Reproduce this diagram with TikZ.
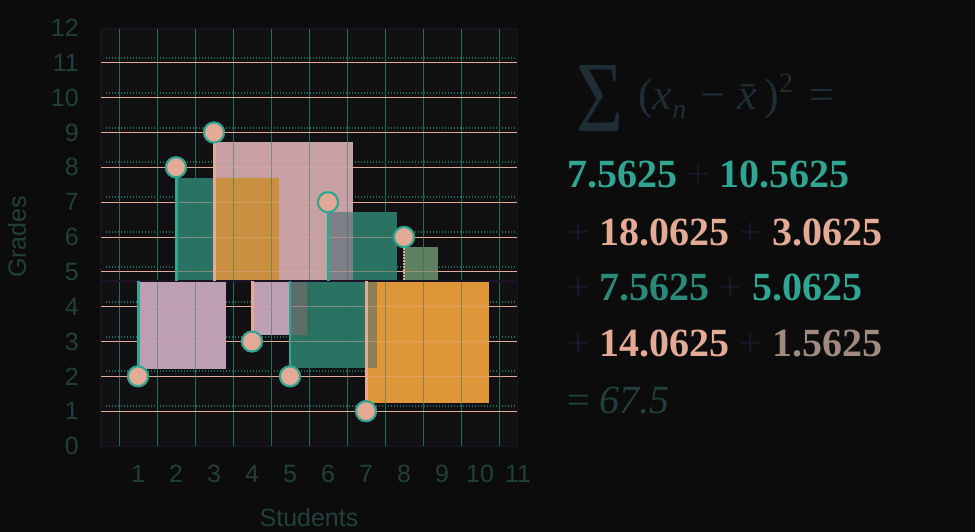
\documentclass[tikz,border=0pt]{standalone}
\usepackage{fontspec}
\usepackage{graphicx}
\setmainfont{Liberation Serif}
\newfontfamily\lsans{Liberation Sans}
\definecolor{bg}{HTML}{0C0C0C}
\definecolor{plotbg}{HTML}{111114}
\definecolor{frame}{HTML}{1C1426}
\definecolor{salmon}{HTML}{E3AB95}
\definecolor{tealL}{HTML}{2FA592}
\definecolor{tealG}{HTML}{1F6E5A}
\definecolor{tealF}{HTML}{2A7262}
\definecolor{lilac}{HTML}{BEA0B6}
\definecolor{orng}{HTML}{DD9638}
\definecolor{pinkor}{HTML}{C6A0A2}
\definecolor{ovl23}{HTML}{C8903F}
\definecolor{ovl45}{HTML}{5F6D6A}
\definecolor{ovl36}{HTML}{7C8086}
\definecolor{ovl57}{HTML}{8D7F55}
\definecolor{sq8}{HTML}{5F8060}
\definecolor{lbl}{HTML}{21403C}
\definecolor{dpur}{HTML}{1E1628}
\definecolor{hdrc}{HTML}{1F2E34}
\definecolor{tealD}{HTML}{2A8A7A}
\definecolor{mixp}{HTML}{A08A80}
\tikzset{
  hgrid/.style={salmon, line width=1pt},
  dgrid/.style={tealG, line width=2pt, dash pattern=on 1pt off 2pt},
  vgrid/.style={tealG, line width=1pt},
  pt/.style={circle, fill=salmon, draw=tealL, line width=2pt, minimum size=20pt, inner sep=0pt},
  tconn/.style={tealL, line width=3pt},
  sconn/.style={salmon, line width=3pt},
  tick/.style={font=\lsans\fontsize{25}{28}\selectfont, text=lbl, inner sep=0pt},
  num/.style={font=\fontsize{40}{44}\selectfont\bfseries, inner sep=0pt, anchor=base west},
}
\newcommand{\pl}{\textcolor{dpur}{\mdseries +}}
\begin{document}
\begin{tikzpicture}[x=1pt,y=-1pt]
\fill[bg] (0,0) rectangle (975,532);
\useasboundingbox (0,0) rectangle (975,532);
% plot area
\fill[plotbg] (100,29) rectangle (517,446);
\foreach \k in {0,...,10} \draw[vgrid] ({119+38*\k},29) -- ({119+38*\k},446);
\foreach \k in {1,...,11} {
  \draw[dgrid] (106,{441-34.833*\k}) -- (516,{441-34.833*\k});
  \draw[hgrid] (101,{446-34.833*\k}) -- (517,{446-34.833*\k});
}
% squares
\fill[lilac] (138,281) rectangle (226,369);
\fill[tealF] (175,178) rectangle (279,281);
\fill[pinkor] (213,142) rectangle (353,281);
\fill[ovl23] (213,178) rectangle (279,281);
\fill[lilac] (252,281) rectangle (307,335);
\fill[tealF] (290,281) rectangle (377,368);
\fill[ovl45] (290,281) rectangle (307,335);
\fill[tealF] (328,212) rectangle (397,281);
\fill[ovl36] (328,212) rectangle (353,281);
\fill[orng] (366,281) rectangle (489,403);
\fill[ovl57] (366,281) rectangle (377,368);
\fill[sq8] (404,247) rectangle (438,281);
% grid seen through squares
\begin{scope}[opacity=0.45]
\foreach \k in {0,...,10} \draw[vgrid] ({119+38*\k},142) -- ({119+38*\k},403);
\foreach \k in {1,...,11} \draw[hgrid] (101,{446-34.833*\k}) -- (517,{446-34.833*\k});
\end{scope}
% frame and mean line
\draw[frame, line width=1pt] (100,29) rectangle (517,446);
\draw[frame, line width=2.2pt] (100,280.6) -- (517,280.6);
% points
\node[pt] (p1) at (138,376.3) {};
\node[pt] (p2) at (176,167.3) {};
\node[pt] (p3) at (214,132.5) {};
\node[pt] (p4) at (252,341.5) {};
\node[pt] (p5) at (290,376.3) {};
\node[pt] (p6) at (328,202.2) {};
\node[pt] (p7) at (366,411.2) {};
\node[pt] (p8) at (404,237.0) {};
\coordinate (m1) at (138,280.6);
\coordinate (m2) at (176,280.6);
\coordinate (m3) at (214,280.6);
\coordinate (m4) at (252,280.6);
\coordinate (m5) at (290,280.6);
\coordinate (m6) at (328,280.6);
\coordinate (m7) at (366,280.6);
\coordinate (m8) at (404,280.6);
\draw[tconn] (p1) -- (m1);
\draw[tconn] (p2) -- (m2);
\draw[sconn] (p3) -- (m3);
\draw[sconn] (p4) -- (m4);
\draw[tealL, line width=2pt] (p5) -- (m5);
\draw[tconn] (p6) -- (m6);
\draw[sconn] (p7) -- (m7);
\draw[salmon, line width=1.5pt, dash pattern=on 1.5pt off 1.5pt] (p8) -- (m8);
\foreach \n in {1,...,8} \node[pt] at (p\n) {};
% y tick labels
\foreach \k in {0,...,12} \node[tick, anchor=east] (yt\k) at (79,{446-34.833*\k}) {\k};
% x tick labels
\foreach \k in {1,...,11} \node[tick] (xt\k) at ({100+38*\k},474) {\k};
\node[tick, rotate=90] (ylab) at (17,237) {Grades};
\node[tick] (xlab) at (309,518) {Students};
% formula header
\node[inner sep=0pt, text=hdrc] (sig) at (599.5,98) {\resizebox{47pt}{66pt}{Σ}};
\node[inner sep=0pt, anchor=base west, text=hdrc] (hdr) at (638,109.5)
  {\fontsize{44}{48}\selectfont (\textit{x}\raisebox{-9pt}{\fontsize{28}{30}\selectfont\textit{n}}\hspace{14pt}−\hspace{12pt}\textit{\=x}\kern-3pt)\raisebox{17pt}{\fontsize{28}{30}\selectfont 2}\hspace{16pt}=};
\node[num] (l1) at (567,188) {\textcolor{tealL}{7.5625} \pl{} \textcolor{tealL}{10.5625}};
\node[num] (l2) at (567,245) {\pl{} \textcolor{salmon}{18.0625} \pl{} \textcolor{salmon}{3.0625}};
\node[num] (l3) at (567,300) {\pl{} \textcolor{tealD}{7.5625} \pl{} \textcolor{tealL}{5.0625}};
\node[num] (l4) at (567,356) {\pl{} \textcolor{salmon}{14.0625} \pl{} \textcolor{mixp}{1.5625}};
\node[num] (l5) at (567,413) {\textcolor{lbl}{\mdseries = \itshape 67.5}};
\end{tikzpicture}
\end{document}
